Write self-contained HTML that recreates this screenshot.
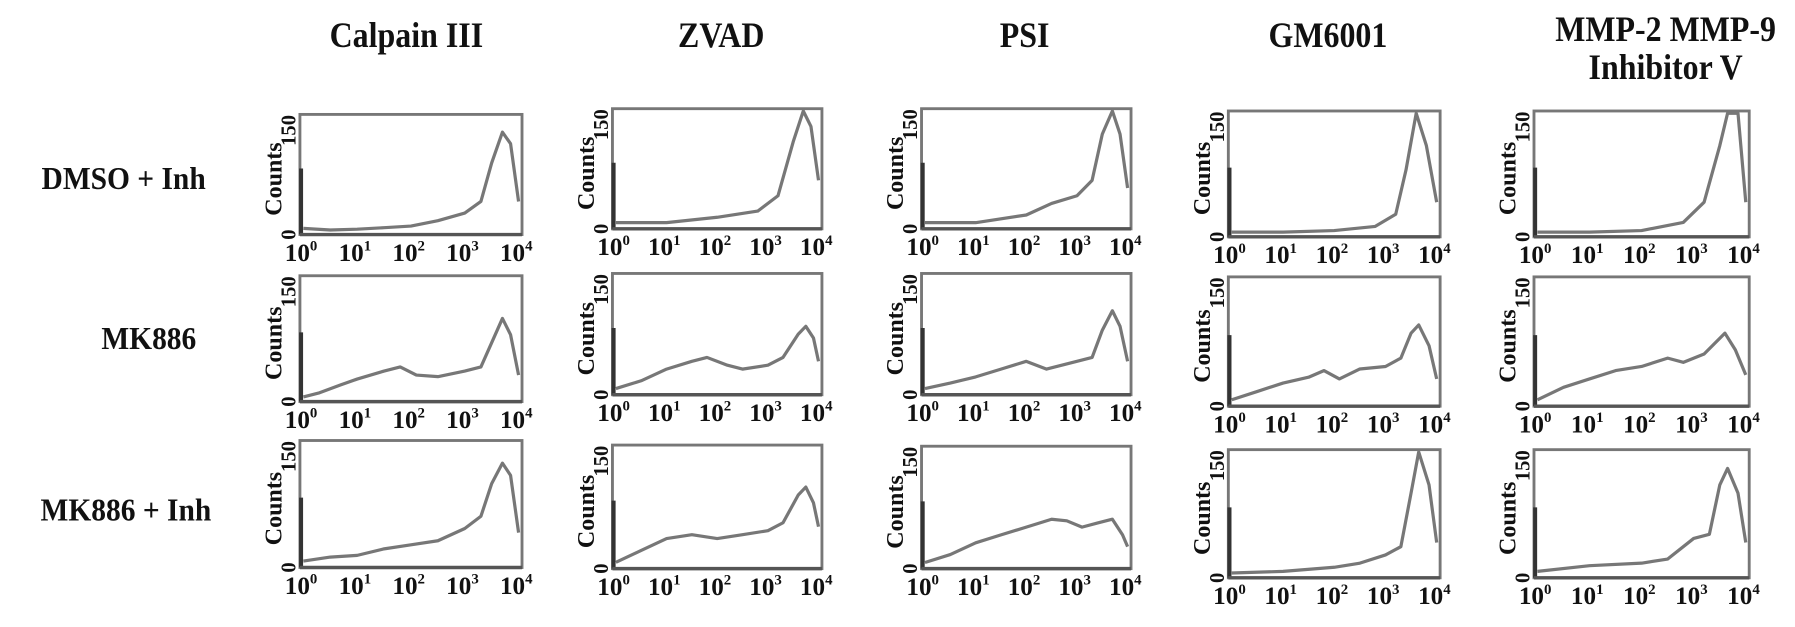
<!DOCTYPE html>
<html><head><meta charset="utf-8"><style>
html,body{margin:0;padding:0;background:#fff;}
svg{display:block;}
text{font-family:"Liberation Serif",serif;font-weight:bold;fill:#111;}
</style></head><body>
<svg id="fig" width="1795" height="627" viewBox="0 0 1568 548" preserveAspectRatio="none" xmlns="http://www.w3.org/2000/svg"></svg>
<script>
const colTitles=["Calpain III","ZVAD","PSI","GM6001","MMP-2 MMP-9|Inhibitor V"];
const rowTitles=["DMSO + Inh","MK886","MK886 + Inh"];
const tickLabels=["0","1","2","3","4"];
const yTicks=["0","150"];
const yMax=150;
// each curve: [log10 fluorescence, counts]
const c1r1=[[0,5],[0.5,3],[1,4],[1.5,6],[2,8],[2.5,15],[3,25],[3.3,40],[3.5,90],[3.7,130],[3.85,115],[4,40]];
const c1r2=[[0,3],[0.3,8],[0.7,18],[1,25],[1.5,35],[1.8,40],[2.1,30],[2.5,28],[3,35],[3.3,40],[3.5,70],[3.7,100],[3.85,80],[4,30]];
const c1r3=[[0,5],[0.5,10],[1,12],[1.5,20],[2,25],[2.5,30],[3,45],[3.3,60],[3.5,100],[3.7,125],[3.85,110],[4,40]];
const c2r1=[[0,5],[1,5],[2,12],[2.8,20],[3.2,40],[3.5,110],[3.7,150],[3.85,130],[4,60]];
const c2r2=[[0,5],[0.5,15],[1,30],[1.5,40],[1.8,45],[2.2,35],[2.5,30],[3,35],[3.3,45],[3.6,75],[3.75,85],[3.9,70],[4,40]];
const c2r3=[[0,5],[0.5,20],[1,35],[1.5,40],[2,35],[2.5,40],[3,45],[3.3,55],[3.6,90],[3.75,100],[3.9,80],[4,50]];
const c3r1=[[0,5],[1,5],[2,15],[2.5,30],[3,40],[3.3,60],[3.5,120],[3.7,150],[3.85,120],[4,50]];
const c3r2=[[0,5],[0.5,12],[1,20],[1.5,30],[2,40],[2.4,30],[3,40],[3.3,45],[3.5,80],[3.7,105],[3.85,85],[4,40]];
const c3r3=[[0,5],[0.5,15],[1,30],[1.5,40],[2,50],[2.5,60],[2.8,58],[3.1,50],[3.4,55],[3.7,60],[3.9,40],[4,25]];
const c4r1=[[0,3],[1,3],[2,5],[2.8,10],[3.2,25],[3.4,80],[3.6,150],[3.8,110],[4,40]];
const c4r2=[[0,5],[0.5,15],[1,25],[1.5,32],[1.8,40],[2.1,30],[2.5,42],[3,45],[3.3,55],[3.5,85],[3.65,95],[3.85,70],[4,30]];
const c4r3=[[0,3],[1,5],[2,10],[2.5,15],[3,25],[3.3,35],[3.5,100],[3.65,150],[3.85,110],[4,40]];
const c5r1=[[0,3],[1,3],[2,5],[2.8,15],[3.2,40],[3.5,110],[3.65,150],[3.85,150],[4,40]];
const c5r2=[[0,5],[0.5,20],[1,30],[1.5,40],[2,45],[2.5,55],[2.8,50],[3.2,60],[3.6,85],[3.8,65],[4,35]];
const c5r3=[[0,5],[1,12],[2,15],[2.5,20],[3,45],[3.3,50],[3.5,110],[3.65,130],[3.85,100],[4,40]];
const curves=[[c1r1,c1r2,c1r3],[c2r1,c2r2,c2r3],[c3r1,c3r2,c3r3],[c4r1,c4r2,c4r3],[c5r1,c5r2,c5r3]];

const colX=[[262,456],[535,718],[805,988],[1073,1258],[1340,1528]];
const rowY=[[[100,205],[241,351],[385,496]],[[95,200],[239,345],[389,497]],[[95,200],[239,345],[390,497]],[[97,207],[242,355],[393,505]],[[97,207],[242,355],[393,505]]];
const titleX=[355,630,895,1160,1455];
const rowLabelY=[[165,108],[305,130],[455,110]];

const svg=document.getElementById('fig');
const NS="http://www.w3.org/2000/svg";
function mk(tag,attrs,parent){const e=document.createElementNS(NS,tag);for(const k in attrs)e.setAttribute(k,attrs[k]);(parent||svg).appendChild(e);return e;}

colTitles.forEach((t,i)=>{
  const lines=t.split('|');
  lines.forEach((ln,j)=>{
    const el=mk('text',{x:titleX[i],y:(lines.length>1?36+j*33:41),'text-anchor':'middle','font-size':31,transform:`translate(${titleX[i]},0) scale(0.9,1) translate(${-titleX[i]},0)`});
    
    
    el.textContent=ln;
  });
});
rowTitles.forEach((t,i)=>{
  const el=mk('text',{x:rowLabelY[i][1],y:rowLabelY[i][0],'text-anchor':'middle','font-size':28,transform:`translate(${rowLabelY[i][1]},0) scale(0.92,1) translate(${-rowLabelY[i][1]},0)`});
  
  
  el.textContent=t;
});

for(let c=0;c<5;c++){for(let r=0;r<3;r++){
  const [x0,x1]=colX[c];const [y0,y1]=rowY[c][r];
  const g=mk('g',{});
  
  
  const xs=v=>x0+3+(x1-x0-6)*v/4;
  const ys=v=>y1-2-(y1-y0-4)*v/yMax;
  const box=mk('rect',{x:x0,y:y0,width:x1-x0,height:y1-y0,fill:'#fff',stroke:'#777','stroke-width':2.5},g);
  
  
  const lb=mk('line',{x1:x0+1,x2:x0+1,y1:y0+(y1-y0)*0.45,y2:y1,stroke:'#333','stroke-width':3.5},g);
  
  
  const bl=mk('line',{x1:x0,x2:x1,y1:y1,y2:y1,stroke:'#555','stroke-width':3},g);
  
  
  const pts=curves[c][r].map(p=>xs(p[0]).toFixed(1)+','+ys(p[1]).toFixed(1)).join(' ');
  const pl=mk('polyline',{points:pts,fill:'none',stroke:'#777','stroke-width':2.8,'stroke-linejoin':'round'},g);
  
  
  const yl=mk('text',{transform:`translate(${x0-16},${(y0+y1)/2+4}) rotate(-90)`,'text-anchor':'middle','font-size':21},g);
  
  
  yl.textContent='Counts';
  yTicks.forEach((t,k)=>{
    const yy=k===0?y1:y0+14;
    const tt=mk('text',{transform:`translate(${x0-4},${yy}) rotate(-90)`,'text-anchor':'middle','font-size':18},g);
    
    
    tt.textContent=t;
  });
  tickLabels.forEach((t,k)=>{
    const tx=mk('text',{x:xs(k)-2,y:y1+23,'text-anchor':'middle','font-size':22},g);
    
    
    tx.textContent='10';
    const sp=mk('tspan',{dy:-9,'font-size':13},tx);
    sp.textContent=t;
  });
}}
</script>
</body></html>
